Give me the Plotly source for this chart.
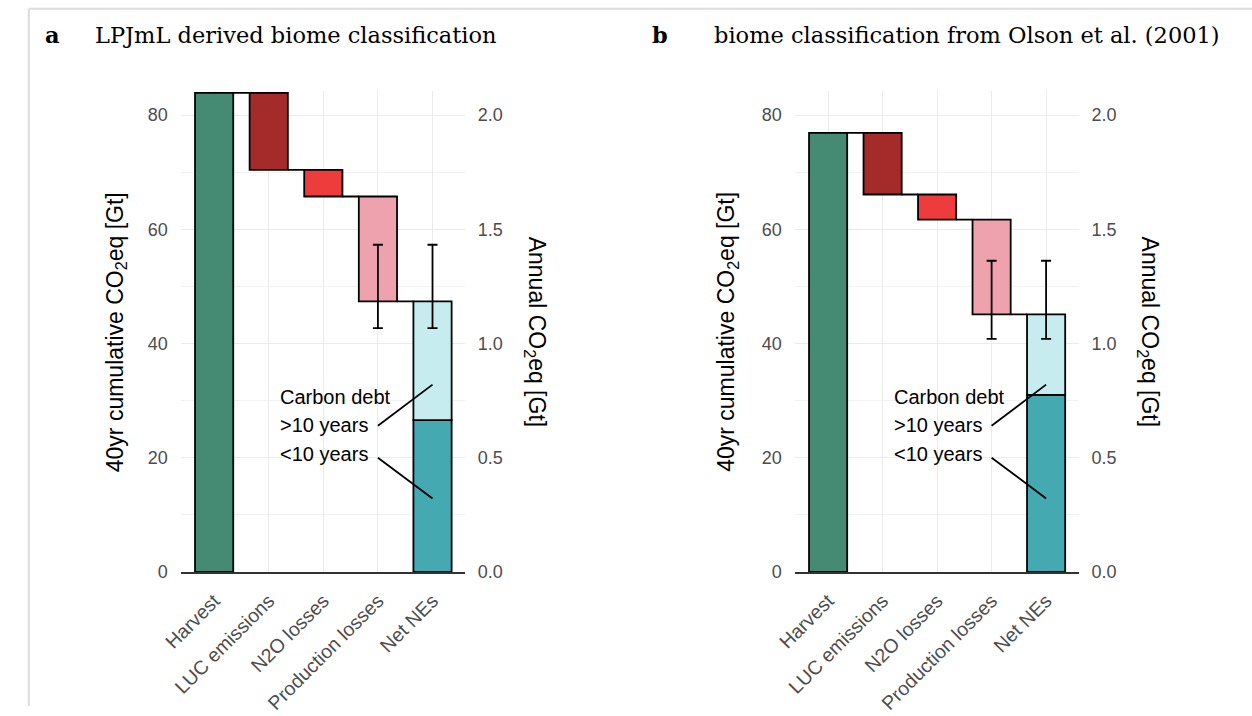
import plotly.graph_objects as go

W, H = 1252, 716

categories = ["Harvest", "LUC emissions", "N2O losses", "Production losses", "Net NEs"]

# Panel a: LPJmL derived biome classification (40yr cumulative CO2eq, Gt)
a_harvest = 83.9
a_luc = 13.5
a_n2o = 4.65
a_prod = 18.35
a_net_short = 26.6          # carbon debt < 10 years
a_err = [42.7, 57.3]        # error bar low / high

# Panel b: biome classification from Olson et al. (2001)
b_harvest = 76.9
b_luc = 10.8
b_n2o = 4.4
b_prod = 16.6
b_net_short = 31.0
b_err = [40.8, 54.5]

annot_labels = ["Carbon debt", ">10 years", "<10 years"]
annot_y = [30.7, 25.8, 20.7]
annot_x = 1.17
seg_x = [3.0, 4.0]
seg_long_y = [25.6, 32.8]
seg_short_y = [20.0, 12.85]

left_ticks = [0, 20, 40, 60, 80]
minor_ticks = [10, 30, 50, 70]
right_ticks = [0.0, 0.5, 1.0, 1.5, 2.0]
annual_factor = 40.0
y_top = 84.28

colors = ["#458B74", "#A52A2A", "#EE3B3B", "#EEA2AD", "#45A9B1", "#C6ECEF"]

SANS = "Liberation Sans, Arial, sans-serif"
YTICK_FONT = dict(family=SANS, size=18, color="#4D4D4D")
XTICK_FONT = dict(family=SANS, size=19.5, color="#4D4D4D")
TITLE_FONT = dict(family=SANS, size=23, color="#000000")

fig = go.Figure()


def add_panel(sfx_x, sfx_y, sfx_y2, harvest, luc, n2o, prod, net_short, err):
    lvl1 = harvest
    lvl2 = harvest - luc
    lvl3 = lvl2 - n2o
    lvl4 = lvl3 - prod
    net_long = lvl4 - net_short
    xs = [0, 1, 2, 3, 4, 4]
    bases = [0, lvl2, lvl3, lvl4, 0, net_short]
    heights = [harvest, luc, n2o, prod, net_short, net_long]
    fig.add_trace(go.Bar(
        x=xs, y=heights, base=bases, width=0.7,
        marker=dict(color=colors, line=dict(color="#000000", width=1.8)),
        xaxis=sfx_x, yaxis=sfx_y, showlegend=False, hoverinfo="skip"))
    # connectors between steps
    levels = [lvl1, lvl2, lvl3, lvl4]
    cx, cy = [], []
    for i, lv in enumerate(levels):
        cx += [i + 0.35, i + 1 - 0.35, None]
        cy += [lv, lv, None]
    fig.add_trace(go.Scatter(x=cx, y=cy, mode="lines", line=dict(color="#000000", width=1.8),
                             xaxis=sfx_x, yaxis=sfx_y, showlegend=False, hoverinfo="skip"))
    # error bars
    mid = (err[0] + err[1]) / 2
    fig.add_trace(go.Scatter(
        x=[3, 4], y=[mid, mid], mode="markers", marker=dict(size=1, opacity=0),
        error_y=dict(type="data", symmetric=False, array=[err[1] - mid] * 2,
                     arrayminus=[mid - err[0]] * 2, color="#000000", thickness=1.8, width=5),
        xaxis=sfx_x, yaxis=sfx_y, showlegend=False, hoverinfo="skip"))
    # annotation segments
    fig.add_trace(go.Scatter(
        x=seg_x + [None] + seg_x, y=seg_long_y + [None] + seg_short_y, mode="lines",
        line=dict(color="#000000", width=1.8),
        xaxis=sfx_x, yaxis=sfx_y, showlegend=False, hoverinfo="skip"))
    # invisible trace on the annual (secondary) axis
    fig.add_trace(go.Scatter(x=[0], y=[harvest / annual_factor], mode="markers",
                             marker=dict(opacity=0), xaxis=sfx_x, yaxis=sfx_y2,
                             showlegend=False, hoverinfo="skip"))
    for lab, yy in zip(annot_labels, annot_y):
        fig.add_annotation(x=annot_x, y=yy, xref=sfx_x, yref=sfx_y, text=lab, showarrow=False,
                           xanchor="left", yanchor="middle",
                           font=dict(family=SANS, size=20, color="#000000"))


add_panel("x", "y", "y2", a_harvest, a_luc, a_n2o, a_prod, a_net_short, a_err)
add_panel("x2", "y3", "y4", b_harvest, b_luc, b_n2o, b_prod, b_net_short, b_err)

dom_a = [164 / W, 452.5 / W]
dom_b = [788 / W, 1076 / W]
dom_y = [1 - 580 / H, 1 - 92 / H]


def xaxis_cfg(dom, anchor):
    return dict(domain=dom, anchor=anchor, range=[-0.6, 4.6], tickmode="array",
                tickvals=list(range(len(categories))), ticktext=categories, tickangle=-45,
                showgrid=True, gridcolor="#EBEBEB", gridwidth=1.4, zeroline=False,
                showline=True, linecolor="#333333", linewidth=1.8,
                ticks="outside", ticklen=8, tickcolor="rgba(0,0,0,0)", tickfont=XTICK_FONT)


def yaxis_cfg(anchor):
    return dict(domain=dom_y, anchor=anchor, range=[0, y_top], tickmode="array",
                tickvals=left_ticks, showgrid=True, gridcolor="#EBEBEB", gridwidth=1.4,
                minor=dict(tickmode="array", tickvals=minor_ticks, showgrid=True,
                           gridcolor="#F2F2F2", gridwidth=1.0, ticks=""),
                zeroline=False, showline=False, ticks="outside", ticklen=9,
                tickcolor="rgba(0,0,0,0)", tickfont=YTICK_FONT)


def y2_cfg(anchor, over):
    return dict(domain=dom_y, anchor=anchor, overlaying=over, side="right",
                range=[0, y_top / annual_factor], tickmode="array", tickvals=right_ticks,
                ticktext=["%.1f" % v for v in right_ticks], showgrid=False, zeroline=False,
                showline=False, ticks="outside", ticklen=8, tickcolor="rgba(0,0,0,0)",
                tickfont=YTICK_FONT)


fig.update_layout(
    width=W, height=H, margin=dict(l=0, r=0, t=0, b=0),
    paper_bgcolor="#FFFFFF", plot_bgcolor="#FFFFFF", barmode="overlay",
    xaxis=xaxis_cfg(dom_a, "y"), yaxis=yaxis_cfg("x"), yaxis2=y2_cfg("x", "y"),
    xaxis2=xaxis_cfg(dom_b, "y3"), yaxis3=yaxis_cfg("x2"), yaxis4=y2_cfg("x2", "y3"),
)

# axis titles
for xc, txt, ang in [(97.5, "40yr cumulative CO<sub>2</sub>eq [Gt]", -90),
                     (524, "Annual CO<sub>2</sub>eq [Gt]", 90),
                     (719, "40yr cumulative CO<sub>2</sub>eq [Gt]", -90),
                     (1147, "Annual CO<sub>2</sub>eq [Gt]", 90)]:
    fig.add_annotation(x=xc / W, y=1 - 337 / H, xref="paper", yref="paper", text=txt,
                       textangle=ang, showarrow=False, xanchor="center", yanchor="middle",
                       font=TITLE_FONT)

# panel titles
SERIF = "DejaVu Serif, Liberation Serif, serif"
for xl, lab in [(23.5, "a"), (640, "b")]:
    fig.add_annotation(x=xl / W, y=1 - 36 / H, xref="paper", yref="paper", text="<b>%s</b>" % lab,
                       showarrow=False, xanchor="left", yanchor="middle",
                       font=dict(family=SERIF, size=22.5, color="#000000"))
for xl, txt in [(74, "LPJmL derived biome classification"),
                (703, "biome classification from Olson et al. (2001)")]:
    fig.add_annotation(x=xl / W, y=1 - 36 / H, xref="paper", yref="paper", text=txt,
                       showarrow=False, xanchor="left", yanchor="middle",
                       font=dict(family=SERIF, size=22.5, color="#000000"))

# light frame lines (top and left)
fig.add_shape(type="line", xref="paper", yref="paper", x0=9 / W, x1=1, y0=1 - 9 / H, y1=1 - 9 / H,
              line=dict(color="#DDDDDD", width=2))
fig.add_shape(type="line", xref="paper", yref="paper", x0=9 / W, x1=9 / W, y0=0, y1=1 - 9 / H,
              line=dict(color="#DDDDDD", width=2))

fig.write_html("out.html")
